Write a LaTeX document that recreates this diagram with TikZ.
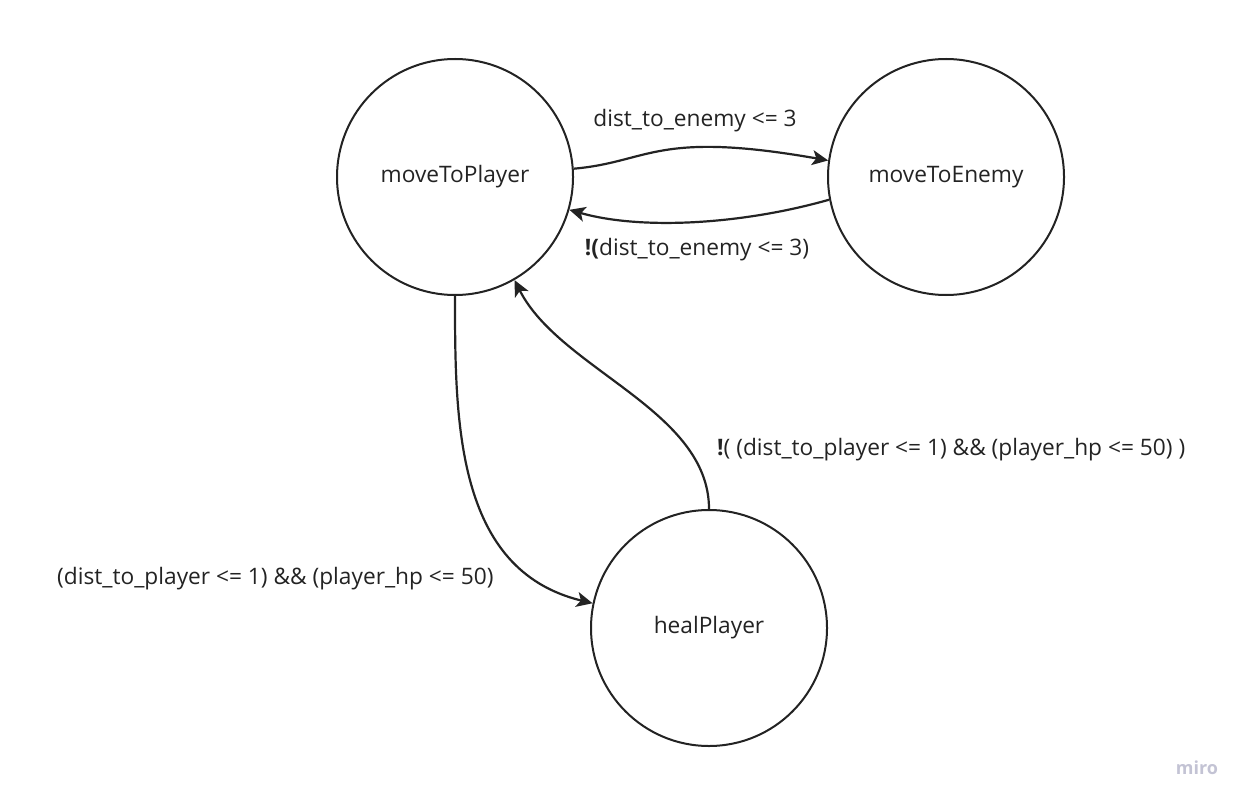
\documentclass[tikz,border=0pt]{standalone}
\usepackage{fontspec}
\setmainfont{Open Sans}
\usetikzlibrary{arrows.meta}
\definecolor{ink}{RGB}{35,35,35}
\definecolor{wm}{RGB}{195,195,212}
\tikzset{
  state/.style={circle, draw=ink, line width=2pt, minimum size=236pt, inner sep=0pt, font=\fontsize{22.7}{26}\selectfont, text=ink},
  conn/.style={draw=ink, line width=2.2pt, -{Stealth[length=16pt,width=15pt,inset=4pt]}},
  lbl/.style={font=\fontsize{22.7}{26}\selectfont, text=ink, inner sep=0pt}
}
\begin{document}
\begin{tikzpicture}[x=1pt,y=-1pt]
\useasboundingbox (0,0) rectangle (1246,802);
\node[state] (mtp) at (455,177) {moveToPlayer};
\node[state] (mte) at (946,177) {moveToEnemy};
\node[state] (hp) at (709,628) {healPlayer};
\draw[conn] (mtp.4) .. controls (650,162) and (655,130) .. (mte.172);
\draw[conn] (mte.191) .. controls (740,225) and (640,230) .. (mtp.344);
\draw[conn] (mtp.270) .. controls (455,420) and (455,570) .. (hp.168);
\draw[conn] (hp.90) .. controls (709,410) and (560,370) .. (mtp.300);
\node[lbl] (l1) at (695,121) {dist\_to\_enemy <= 3};
\node[lbl] (l2) at (697,250) {\textbf{!(}dist\_to\_enemy <= 3)};
\node[lbl, anchor=west] (l3) at (717,450) {\textbf{!}( (dist\_to\_player <= 1) \&\& (player\_hp <= 50) )};
\node[lbl, anchor=west] (l4) at (57,579) {(dist\_to\_player <= 1) \&\& (player\_hp <= 50)};
\node[font=\fontsize{18}{20}\selectfont\bfseries, text=wm, inner sep=0pt] (wm) at (1197,768) {miro};
\end{tikzpicture}
\end{document}
